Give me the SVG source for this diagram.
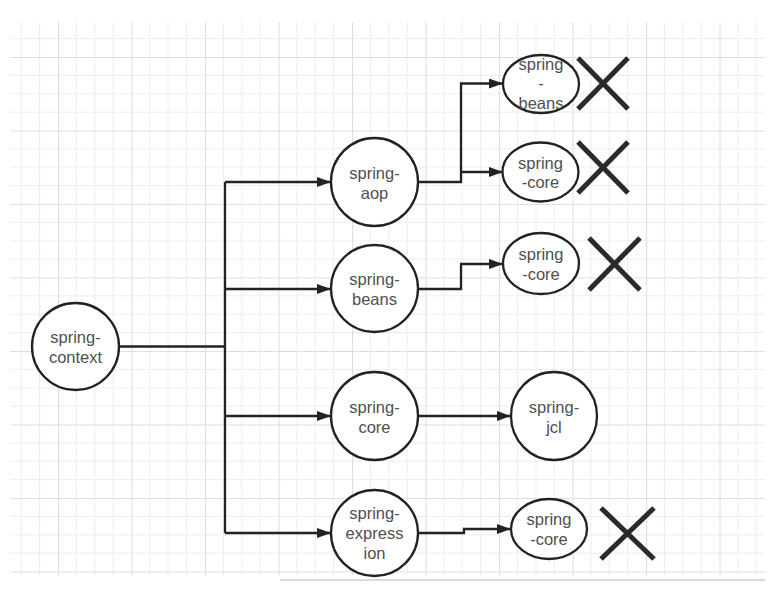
<svg xmlns="http://www.w3.org/2000/svg" width="773" height="591" viewBox="0 0 773 591">
<style>
.node ellipse{fill:#fff;stroke:#222;stroke-width:2.3}
.node text{font-family:"Liberation Sans",Arial,sans-serif;font-size:16.5px;fill:#505050;text-anchor:middle}
.conn{fill:none;stroke:#222;stroke-width:2.3}
.x line{stroke:#2a2a2a;stroke-width:5}
</style>
<defs>
<marker id="arr" viewBox="0 0 14 10" refX="13" refY="5" markerWidth="14" markerHeight="10" markerUnits="userSpaceOnUse" orient="auto">
<path d="M0,0 L14,5 L0,10 z" fill="#222"/>
</marker>
<pattern id="grid" x="58" y="57" width="73.5" height="73.5" patternUnits="userSpaceOnUse">
<path d="M18.375,0V73.5M36.75,0V73.5M55.125,0V73.5M0,18.375H73.5M0,36.75H73.5M0,55.125H73.5" stroke="#ececec" stroke-width="1" fill="none"/>
<path d="M0.5,0V73.5M0,0.5H73.5" stroke="#dedede" stroke-width="1.2" fill="none"/>
</pattern>
</defs>
<rect width="773" height="591" fill="#fff"/>
<rect x="10" y="22" width="755" height="553" fill="url(#grid)"/>
<line x1="280" y1="580" x2="765" y2="580" stroke="#cfcfcf" stroke-width="1.5"/>
<g id="connectors">
<path class="conn" d="M119,346.5 H225"/>
<path class="conn" d="M225,182 V533"/>
<path class="conn" marker-end="url(#arr)" d="M225,182 H330"/>
<path class="conn" marker-end="url(#arr)" d="M225,289 H330"/>
<path class="conn" marker-end="url(#arr)" d="M225,416 H330"/>
<path class="conn" marker-end="url(#arr)" d="M225,533 H330"/>
<path class="conn" marker-end="url(#arr)" d="M418,182 H461 V83.5 H502"/>
<path class="conn" marker-end="url(#arr)" d="M461,172 H502"/>
<path class="conn" marker-end="url(#arr)" d="M418,289 H461 V264 H502"/>
<path class="conn" marker-end="url(#arr)" d="M418,416 H510"/>
<path class="conn" marker-end="url(#arr)" d="M418,533 H464 V529 H510"/>
</g>
<g id="spring-context" class="node"><ellipse cx="75.5" cy="346.5" rx="43.5" ry="43.5"/><text x="75.5" y="342.5">spring-</text><text x="75.5" y="362.5">context</text></g>
<g id="spring-aop" class="node"><ellipse cx="374.5" cy="182" rx="43.5" ry="44"/><text x="374.5" y="179">spring-</text><text x="374.5" y="199">aop</text></g>
<g id="spring-beans-1" class="node"><ellipse cx="541" cy="84" rx="38" ry="29"/><text x="541" y="69.5">spring</text><text x="541" y="89">-</text><text x="541" y="108.5">beans</text></g>
<g id="spring-core-1" class="node"><ellipse cx="540.5" cy="172" rx="38" ry="29.5"/><text x="540.5" y="168.5">spring</text><text x="540.5" y="188">-core</text></g>
<g id="spring-beans" class="node"><ellipse cx="374.5" cy="288.5" rx="43.5" ry="43.5"/><text x="374.5" y="284.5">spring-</text><text x="374.5" y="304.5">beans</text></g>
<g id="spring-core-2" class="node"><ellipse cx="541" cy="263.5" rx="38" ry="30.5"/><text x="541" y="259.5">spring</text><text x="541" y="279.5">-core</text></g>
<g id="spring-core" class="node"><ellipse cx="374.5" cy="416" rx="43.5" ry="44"/><text x="374.5" y="412.5">spring-</text><text x="374.5" y="432.5">core</text></g>
<g id="spring-jcl" class="node"><ellipse cx="554" cy="416" rx="43" ry="44"/><text x="554" y="412.5">spring-</text><text x="554" y="432.5">jcl</text></g>
<g id="spring-expression" class="node"><ellipse cx="374.5" cy="533" rx="43.5" ry="43"/><text x="374.5" y="519">spring-</text><text x="374.5" y="539">express</text><text x="374.5" y="558.5">ion</text></g>
<g id="spring-core-3" class="node"><ellipse cx="549" cy="529" rx="38" ry="30"/><text x="549" y="525">spring</text><text x="549" y="544.5">-core</text></g>
<g id="x-marks" class="x">
<line x1="578" y1="58" x2="628" y2="109"/><line x1="628" y1="58" x2="578" y2="109"/>
<line x1="578" y1="142" x2="628" y2="193"/><line x1="628" y1="142" x2="578" y2="193"/>
<line x1="589" y1="238" x2="640" y2="290"/><line x1="640" y1="238" x2="589" y2="290"/>
<line x1="601" y1="508" x2="654" y2="559"/><line x1="654" y1="508" x2="601" y2="559"/>
</g>
</svg>
